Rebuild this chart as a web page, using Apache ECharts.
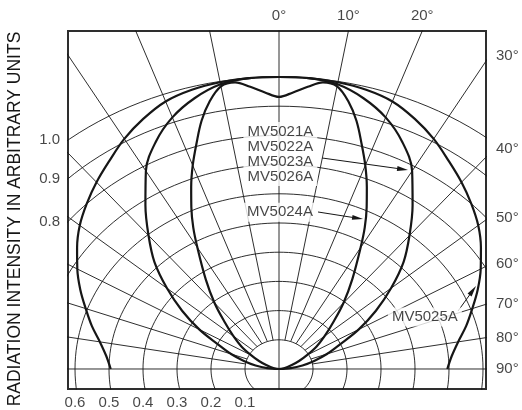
<!DOCTYPE html>
<html>
<head>
<meta charset="utf-8">
<script src="https://cdn.jsdelivr.net/npm/echarts@6/dist/echarts.min.js"></script>
<style>
html,body{margin:0;padding:0;background:#fff;}
#chart{width:522px;height:410px;}
</style>
</head>
<body>
<div id="chart"></div>
<script>
// ---------------- DATA ----------------
// Angles in degrees off axis, relative radiation intensity (symmetric patterns)
const anglesA = [0, 5, 10, 15, 20, 25, 30, 35, 40, 45, 50, 55, 60, 65, 70, 75, 80, 85, 90];
const intensA = [1.00, 1.00, 0.99, 0.96, 0.917, 0.858, 0.783, 0.685, 0.597, 0.518, 0.43, 0.348, 0.27, 0.196, 0.15, 0.107, 0.07, 0.035, 0];

const anglesB = [0, 2.5, 5, 7.5, 10, 12.5, 15, 17.5, 20, 22.5, 25, 27.5, 30, 35, 40, 45, 50, 55, 60, 65, 70, 80, 90];
const intensB = [0.932, 0.948, 0.97, 0.99, 0.983, 0.94, 0.88, 0.808, 0.742, 0.675, 0.61, 0.546, 0.48, 0.376, 0.295, 0.225, 0.175, 0.135, 0.095, 0.065, 0.04, 0.015, 0];

const anglesC = [0, 5, 10, 15, 20, 25, 30, 35, 40, 45, 50, 55, 60, 65, 70, 75, 80, 85, 90];
const intensC = [1.00, 1.00, 0.997, 0.99, 0.975, 0.945, 0.91, 0.87, 0.835, 0.80, 0.765, 0.725, 0.685, 0.645, 0.605, 0.57, 0.535, 0.51, 0.495];

const labelA = ['MV5021A', 'MV5022A', 'MV5023A', 'MV5026A'];
const labelB = ['MV5024A'];
const labelC = ['MV5025A'];

// grid: intensity rings and angle spokes
const ringValues = [0.1, 0.2, 0.3, 0.4, 0.5, 0.6, 0.7, 0.8, 0.9, 1.0];
const spokeAngles = [10, 20, 30, 40, 50, 60, 70, 80];

// tick labels
const topTickAngles = [0, 10, 20];
const rightTickAngles = [30, 40, 50, 60, 70, 80, 90];
const leftTickValues = [1.0, 0.9, 0.8];
const bottomTickValues = [0.6, 0.5, 0.4, 0.3, 0.2, 0.1];
const yTitle = 'RADIATION INTENSITY IN ARBITRARY UNITS';

// ---------------- LAYOUT ----------------
const FONT = '"Liberation Sans", Arial, Helvetica, sans-serif';
const xMin = -0.6206, xMax = 0.6088;   // horizontal extent of the frame (intensity units)
const yMin = -0.0685, yMax = 1.1575;   // vertical extent of the frame (intensity units)
const INK = '#161616';
const rightTickNudge = {30: -5, 40: -8, 50: -2, 60: -3}; // px, label placement only

// annotation placement (data units of the plot)
const annBlockPos = [0.004, 0.736];
const annBPos = [0.003, 0.537];
const annCPos = [0.429, 0.178];
const arrows = [
  {from: [0.1265, 0.7226], to: [0.3635, 0.6842]},
  {from: [0.1147, 0.5377], to: [0.2312, 0.5164]},
  {from: [0.5265, 0.1986], to: [0.5700, 0.2688]}
];

// ---------------- BUILD ----------------
const DEG = Math.PI / 180;
const P = (a, r) => [r * Math.sin(a * DEG), r * Math.cos(a * DEG)];

function mirrored(angles, vals) {
  const pts = [];
  for (let i = angles.length - 1; i >= 0; i--) pts.push(P(-angles[i], vals[i]));
  for (let i = 1; i < angles.length; i++) pts.push(P(angles[i], vals[i]));
  return pts;
}

const gridStyle = {color: INK, width: 0.9};
const series = [];

ringValues.forEach(r => {
  const pts = [];
  for (let a = 0; a <= 360; a += 2) pts.push(P(a, r));
  series.push({type: 'line', data: pts, symbol: 'none', silent: true, lineStyle: gridStyle, z: 1});
});
spokeAngles.forEach(a => {
  [a, -a].forEach(s => {
    series.push({type: 'line', data: [P(s, 0.1), P(s, 2.5)], symbol: 'none', silent: true, lineStyle: gridStyle, z: 1});
  });
});
series.push({type: 'line', data: [[0, yMin - 0.2], [0, 2]], symbol: 'none', silent: true, lineStyle: gridStyle, z: 1});
series.push({type: 'line', data: [[-2, 0], [2, 0]], symbol: 'none', silent: true, lineStyle: gridStyle, z: 1});

const curveStyle = {color: INK, width: 2.2};
[[anglesA, intensA, labelA.join(', ')], [anglesB, intensB, labelB[0]], [anglesC, intensC, labelC[0]]].forEach(c => {
  series.push({type: 'line', name: c[2], data: mirrored(c[0], c[1]), symbol: 'none', smooth: 0.35, silent: true, lineStyle: curveStyle, z: 3});
});

// tick labels
const tickText = {color: INK, fontSize: 15, fontFamily: FONT};
const ticks = [];
topTickAngles.forEach(a => ticks.push({value: [yMax * Math.tan(a * DEG), yMax], label: {show: true, position: 'top', distance: 8, formatter: a + '°', ...tickText}}));
rightTickAngles.forEach(a => ticks.push({value: [xMax, a === 90 ? 0 : xMax / Math.tan(a * DEG)], label: {show: true, position: 'right', distance: 10, offset: [0, rightTickNudge[a] || 0], formatter: a + '°', ...tickText}}));
leftTickValues.forEach(v => ticks.push({value: [xMin, Math.sqrt(v * v - xMin * xMin)], label: {show: true, position: 'left', distance: 8, formatter: v.toFixed(1), ...tickText}}));
bottomTickValues.forEach(v => ticks.push({value: [-v, yMin], label: {show: true, position: 'bottom', distance: 6, formatter: v.toFixed(1), ...tickText}}));
series.push({type: 'scatter', data: ticks, symbolSize: 0, clip: false, silent: true, z: 5});

// annotations
const annText = {show: true, position: 'inside', color: INK, fontSize: 15, fontFamily: FONT, lineHeight: 15, backgroundColor: '#fff', padding: [2, 4]};
series.push({
  type: 'scatter', symbolSize: 0, clip: false, silent: true, z: 8,
  data: [
    {value: annBlockPos, label: {...annText, formatter: labelA.join('\n')}},
    {value: annBPos, label: {...annText, formatter: labelB[0]}},
    {value: annCPos, label: {...annText, formatter: labelC[0]}}
  ],
  markLine: {
    silent: true, animation: false,
    symbol: ['none', 'triangle'], symbolSize: [0, 10],
    label: {show: false},
    lineStyle: {color: INK, width: 1, type: 'solid'},
    emphasis: {disabled: true},
    data: arrows.map(ar => [{coord: ar.from, symbol: 'none'}, {coord: ar.to, symbol: 'triangle', symbolSize: [5, 11]}])
  }
});

const chart = echarts.init(document.getElementById('chart'), null, {renderer: 'canvas'});
chart.setOption({
  animation: false,
  backgroundColor: '#fff',
  grid: {left: 68, right: 36, top: 31, bottom: 21, show: true, borderColor: '#2e2e2e', borderWidth: 2, backgroundColor: 'transparent', outerBoundsMode: 'none'},
  xAxis: {type: 'value', min: xMin, max: xMax, show: false},
  yAxis: {
    type: 'value', min: yMin, max: yMax, show: true,
    axisLine: {show: false}, axisTick: {show: false}, axisLabel: {show: false}, splitLine: {show: false},
    name: yTitle, nameLocation: 'middle', nameRotate: 90, nameGap: 44,
    nameTextStyle: {color: INK, fontSize: 17.5, fontFamily: FONT, padding: [0, 18, 0, 0]}
  },
  series: series
});
</script>
</body>
</html>
